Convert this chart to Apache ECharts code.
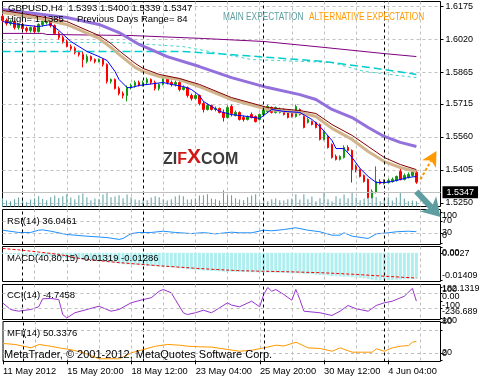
<!DOCTYPE html>
<html>
<head>
<meta charset="utf-8">
<script src="https://cdn.jsdelivr.net/npm/echarts@6.0.0/dist/echarts.min.js"></script>
<style>html,body{margin:0;padding:0;background:#fff;}#chart{width:480px;height:380px;}</style>
</head>
<body>
<div id="chart"></div>
<script>
// ================= DATA =================
const symbolName = 'GBPUSD,H4';
const lastBar = [1.5393, 1.5400, 1.5339, 1.5347];
const dayHighText = 'High= 1.1385';
const prevRangeText = 'Previous Days Range= 84';
const expectationLabels = ['MAIN EXPECTATION', 'ALTERNATIVE EXPECTATION'];
const copyrightText = 'MetaTrader, \u00a9 2001-2012, MetaQuotes Software Corp.';
const logoParts = ['ZI', 'F', 'X', 'COM'];

const slotCount = 110;
const xTickIdx = [0, 16, 32, 48, 64, 80, 96];
const xTickLabels = ['11 May 2012', '15 May 20:00', '18 May 12:00', '23 May 04:00', '25 May 20:00', '30 May 12:00', '4 Jun 04:00'];
const weekStartIdx = [5, 35, 65, 95];
const priceTicks = [1.6175, 1.6020, 1.5865, 1.5715, 1.5560, 1.5405, 1.5250];
const bidPrice = 1.5347;

// [open, close, low, high]
const ohlc = [
[1.6127,1.6108,1.6098,1.6136],[1.6108,1.6094,1.6084,1.6117],[1.6094,1.6103,1.6084,1.6112],[1.6103,1.6075,1.6065,1.6108],
[1.6075,1.6089,1.6065,1.6094],[1.6089,1.6070,1.6061,1.6098],[1.6070,1.6061,1.6051,1.6079],[1.6061,1.6075,1.6051,1.6079],
[1.6075,1.6056,1.6047,1.6084],[1.6056,1.6089,1.6051,1.6094],[1.6089,1.6098,1.6079,1.6108],[1.6098,1.6103,1.6089,1.6112],
[1.6103,1.6084,1.6075,1.6108],[1.6084,1.6047,1.6042,1.6089],[1.6047,1.6028,1.6018,1.6056],[1.6028,1.6009,1.5999,1.6037],
[1.6009,1.5985,1.5981,1.6018],[1.5985,1.5976,1.5966,1.5995],[1.5976,1.5957,1.5948,1.5985],[1.5957,1.5948,1.5938,1.5966],
[1.5948,1.5924,1.5887,1.5962],[1.5915,1.5938,1.5906,1.5948],[1.5938,1.5924,1.5915,1.5943],[1.5924,1.5915,1.5906,1.5929],
[1.5915,1.5924,1.5910,1.5929],[1.5924,1.5901,1.5891,1.5929],[1.5901,1.5821,1.5811,1.5906],[1.5821,1.5830,1.5811,1.5835],
[1.5830,1.5788,1.5783,1.5835],[1.5788,1.5764,1.5755,1.5797],[1.5764,1.5755,1.5741,1.5774],[1.5755,1.5792,1.5727,1.5802],
[1.5792,1.5802,1.5783,1.5811],[1.5802,1.5816,1.5792,1.5825],[1.5816,1.5802,1.5797,1.5825],[1.5802,1.5816,1.5797,1.5825],
[1.5816,1.5830,1.5807,1.5839],[1.5830,1.5816,1.5807,1.5835],[1.5816,1.5788,1.5778,1.5825],[1.5788,1.5807,1.5778,1.5811],
[1.5807,1.5835,1.5802,1.5844],[1.5835,1.5816,1.5807,1.5844],[1.5816,1.5807,1.5797,1.5825],[1.5807,1.5816,1.5797,1.5825],
[1.5816,1.5783,1.5774,1.5821],[1.5783,1.5792,1.5778,1.5802],[1.5792,1.5755,1.5745,1.5797],[1.5755,1.5741,1.5731,1.5764],
[1.5741,1.5755,1.5736,1.5764],[1.5755,1.5717,1.5708,1.5759],[1.5717,1.5689,1.5675,1.5727],[1.5689,1.5708,1.5684,1.5717],
[1.5708,1.5689,1.5684,1.5712],[1.5689,1.5694,1.5680,1.5703],[1.5694,1.5675,1.5670,1.5698],[1.5675,1.5651,1.5632,1.5689],
[1.5651,1.5698,1.5647,1.5708],[1.5703,1.5670,1.5656,1.5712],[1.5661,1.5675,1.5656,1.5684],[1.5675,1.5642,1.5637,1.5680],
[1.5651,1.5642,1.5632,1.5661],[1.5642,1.5656,1.5637,1.5661],[1.5665,1.5651,1.5647,1.5675],[1.5656,1.5632,1.5628,1.5661],
[1.5642,1.5665,1.5637,1.5670],[1.5665,1.5689,1.5661,1.5698],[1.5680,1.5703,1.5675,1.5712],[1.5698,1.5675,1.5670,1.5703],
[1.5675,1.5698,1.5670,1.5703],[1.5675,1.5689,1.5670,1.5698],[1.5689,1.5665,1.5661,1.5694],[1.5675,1.5651,1.5647,1.5680],
[1.5675,1.5656,1.5651,1.5680],[1.5656,1.5703,1.5651,1.5712],[1.5689,1.5665,1.5661,1.5694],[1.5656,1.5604,1.5600,1.5661],
[1.5628,1.5642,1.5623,1.5651],[1.5632,1.5618,1.5614,1.5637],[1.5628,1.5604,1.5600,1.5632],[1.5618,1.5548,1.5543,1.5623],
[1.5548,1.5585,1.5543,1.5590],[1.5562,1.5510,1.5505,1.5567],[1.5524,1.5463,1.5458,1.5529],[1.5468,1.5454,1.5449,1.5477],
[1.5454,1.5468,1.5449,1.5473],[1.5463,1.5510,1.5458,1.5520],[1.5510,1.5496,1.5491,1.5520],[1.5496,1.5406,1.5345,1.5501],
[1.5421,1.5406,1.5393,1.5430],[1.5406,1.5374,1.5369,1.5411],[1.5378,1.5350,1.5345,1.5383],[1.5360,1.5275,1.5270,1.5364],
[1.5275,1.5303,1.5270,1.5313],[1.5299,1.5350,1.5294,1.5421],[1.5350,1.5341,1.5336,1.5360],[1.5341,1.5350,1.5336,1.5360],
[1.5345,1.5355,1.5341,1.5364],[1.5350,1.5360,1.5345,1.5369],[1.5355,1.5374,1.5350,1.5378],[1.5397,1.5360,1.5355,1.5416],
[1.5360,1.5378,1.5355,1.5388],[1.5369,1.5383,1.5364,1.5393],[1.5378,1.5397,1.5374,1.5406],[1.5393,1.5347,1.5339,1.5400]
];

const volume = [
8200,6100,5200,7300,9100,6400,4200,7100,8300,10200,7400,6200,9300,11100,8400,10300,12200,9100,7300,11200,
13100,9200,6300,8100,7200,12100,14200,9300,10100,11300,8200,12100,9200,7100,6300,
7100,6200,9100,10200,9300,7200,6100,7300,10100,11200,10300,7100,7200,8300,11100,11300,12200,8100,7200,6100,
16200,11100,11300,8200,7100,6300,9200,11100,12300,4200,7100,5200,7300,8100,6200,6100,7200,
8100,12200,7100,12300,7200,10100,5200,8300,14100,7200,5100,10200,8100,12100,8200,14300,9100,6200,8100,14200,
12100,9300,5200,8100,9200,6100,9100,14200,8100,5200,6100,5300
];

// moving averages on the price chart: [bar index, price]
const maFast = [[0,1.6103],[4,1.6089],[9,1.6079],[12,1.6089],[14,1.6061],[17,1.6009],[21,1.5962],[24,1.5938],[26,1.5920],[28,1.5868],[29,1.5830],[31,1.5792],[32,1.5792],[34,1.5802],[40,1.5816],[42,1.5807],[45,1.5797],[47,1.5783],[49,1.5755],[50,1.5727],[54,1.5680],[57,1.5665],[61,1.5656],[64,1.5647],[65,1.5661],[67,1.5689],[70,1.5680],[74,1.5675],[77,1.5642],[79,1.5609],[82,1.5543],[83,1.5505],[85,1.5505],[87,1.5463],[89,1.5411],[91,1.5374],[93,1.5345],[95,1.5345],[97,1.5350],[101,1.5369],[103,1.5374]];
const maMid = [[0,1.6145],[8,1.6122],[16,1.6089],[24,1.6023],[27,1.5981],[29,1.5948],[33,1.5887],[35,1.5868],[39,1.5844],[44,1.5830],[49,1.5797],[57,1.5736],[66,1.5689],[74,1.5675],[78,1.5656],[82,1.5600],[87,1.5548],[91,1.5491],[95,1.5444],[99,1.5416],[103,1.5397]];
const maMidLead = [[0,1.6155],[8,1.6131],[16,1.6103],[24,1.6037],[27,1.5999],[29,1.5966],[33,1.5906],[35,1.5882],[39,1.5854],[44,1.5835],[49,1.5807],[57,1.5745],[66,1.5698],[74,1.5684],[78,1.5670],[82,1.5618],[87,1.5567],[91,1.5515],[95,1.5463],[99,1.5430],[103,1.5406]];
const maSlow = [[0,1.6159],[16,1.6122],[24,1.6089],[29,1.6051],[34,1.5995],[41,1.5938],[49,1.5891],[57,1.5839],[66,1.5792],[74,1.5759],[78,1.5736],[82,1.5689],[87,1.5651],[91,1.5604],[95,1.5562],[99,1.5534],[103,1.5515]];
const maLong = [[0,1.6047],[10,1.6047],[11,1.6042],[32,1.6037],[50,1.6023],[65,1.6009],[80,1.5981],[95,1.5952],[103,1.5938]];
const maDailyA = [[0,1.6004],[29,1.6004],[45,1.5985],[62,1.5924],[82,1.5910],[90,1.5868],[103,1.5839]];
const maDailyB = [[0,1.5962],[45,1.5962],[60,1.5943],[80,1.5915],[95,1.5877],[103,1.5854]];

// RSI(14)
const rsi = [[0,41],[4,33.5],[7,33.5],[9,41],[10,42],[12,37.7],[16,27],[21,21.5],[26,17],[29,11],[30,14],[32,30],[34,33.5],[37,33.5],[40,37.7],[43,33.5],[47,30],[50,33],[53,29],[57,34.5],[59,32.5],[62,32.5],[65,41],[67,39],[70,43],[73,48.8],[76,41],[79,35.8],[82,24.7],[84,24.7],[85,32.5],[87,21.5],[91,14],[93,29],[96,32.5],[98,35.8],[101,37.7],[103,36.0461]];
const rsiTicks = [100, 70, 30, 0];
const rsiTickText = ['100', '70', '30', '0'];
const rsiLevels = [70, 30];

// MACD(40,80,15)
const macd = [
-0.0005,-0.0006,-0.0008,-0.0009,-0.0011,-0.0012,-0.0013,-0.0014,-0.0016,-0.0016,
-0.0017,-0.0017,-0.0018,-0.0020,-0.0022,-0.0025,-0.0027,-0.0029,-0.0031,-0.0032,
-0.0035,-0.0036,-0.0037,-0.0039,-0.0040,-0.0042,-0.0047,-0.0049,-0.0052,-0.0055,
-0.0058,-0.0059,-0.0060,-0.0062,-0.0063,-0.0065,-0.0066,-0.0067,-0.0069,-0.0070,
-0.0071,-0.0073,-0.0074,-0.0076,-0.0078,-0.0080,-0.0082,-0.0084,-0.0086,-0.0088,
-0.0090,-0.0091,-0.0092,-0.0093,-0.0094,-0.0095,-0.0096,-0.0096,-0.0097,-0.0097,
-0.0098,-0.0098,-0.0099,-0.0099,-0.0100,-0.0100,-0.0100,-0.0100,-0.0101,-0.0101,
-0.0102,-0.0103,-0.0104,-0.0104,-0.0105,-0.0107,-0.0108,-0.0109,-0.0111,-0.0113,
-0.0114,-0.0116,-0.0118,-0.0119,-0.0120,-0.0121,-0.0122,-0.0124,-0.0126,-0.0128,
-0.0130,-0.0134,-0.0137,-0.0140,-0.01409,-0.0140,-0.0139,-0.0138,-0.0137,-0.0136,
-0.0135,-0.0134,-0.0133,-0.01319
];
const macdSignal = [[0,0.0022],[4,0.0015],[9,0.0004],[14,-0.0008],[19,-0.0028],[24,-0.0040],[29,-0.0050],[34,-0.0058],[39,-0.0066],[44,-0.0073],[49,-0.0080],[54,-0.0086],[59,-0.0091],[65,-0.0094],[72,-0.0097],[80,-0.0102],[88,-0.0110],[95,-0.0119],[103,-0.01286]];
const macdTicks = [0.0027, 0, -0.01409];
const macdTickText = ['0.0027', '0.00', '-0.01409'];

// CCI(14)
const cci = [[0,-28],[2,-120],[4,-143],[7,-120],[9,-83],[10,27],[12,31],[14,17],[15,-189],[16,-236.689],[18,-165],[21,-120],[24,-75],[27,-143],[29,-120],[32,-28],[35,17],[37,41],[39,131],[40,155],[42,109],[43,17],[45,-165],[46,-189],[48,-165],[50,-130],[52,-165],[54,-97],[56,-28],[57,-60],[59,-83],[62,-6],[64,-83],[65,86],[66,182.1319],[67,131],[68,155],[70,86],[72,8],[73,155],[74,17],[75,-143],[79,-165],[82,-202],[84,-143],[86,-65],[88,-110],[91,-143],[93,-65],[95,-28],[97,-6],[100,62],[102,170],[103,-4.7458]];
const cciTicks = [182.1319, 100, 0, -100, -236.689];
const cciTickText = ['182.1319', '100', '0.00', '-100', '-236.689'];
const cciLevels = [100, -100];

// MFI(14)
const mfi = [[0,44.6],[3,42],[7,33],[9,42],[12,37],[14,33],[17,28],[20,20],[24,4],[29,4],[32,20],[35,28.6],[38,37.4],[41,42],[44,40],[46,37.4],[49,35.8],[52,35],[56,28.6],[59,24],[62,26.8],[65,33],[68,40],[70,38],[73,48],[76,33],[79,31.3],[82,24],[84,33],[87,21.5],[92,21.5],[93,30.5],[95,24],[97,33],[99,37.4],[101,39],[102,48],[103,50.3376]];
const mfiTicks = [100, 80, 20, 0];
const mfiTickText = ['100', '80', '20', '0'];
const mfiLevels = [80, 20];

// expectation arrows, anchored in [bar index, price]
const altArrow = {from: [103.5, 1.5360], to: [108.3, 1.5493]};
const mainArrow = {from: [103.2, 1.5303], to: [108.5, 1.5183]};

// ================= STYLE / LAYOUT =================
const FONT = '"Liberation Sans", Arial, sans-serif';
const GRIDCOL = '#c0c0c0';
const panels = [
  {top: 1.5, height: 205},
  {top: 209.5, height: 35},
  {top: 246.5, height: 35},
  {top: 284.5, height: 35},
  {top: 321.5, height: 40}
];
// visual nudges (px) of the sub-window scale labels, like MetaTrader keeps them inside the window
const rsiShift = [4, -1, -1, -7];
const macdShift = [6, 0, -5];
const cciShift = [1, -4, -4, -3, -6];
const mfiShift = [-2, -9, 0, -7];

const chart = echarts.init(document.getElementById('chart'), null, {renderer: 'canvas'});
const cats = Array.from({length: slotCount}, (_, i) => String(i));

function subAxis(g, min, max, ticks) {
  return {
    type: 'value', gridIndex: g, position: 'right', min, max,
    axisLine: {show: false},
    axisTick: {show: true, customValues: ticks, length: 2, lineStyle: {color: '#000'}},
    axisLabel: {show: false},
    splitLine: {show: false}
  };
}
function sepMark(extra) {
  return {
    symbol: ['none', 'none'], silent: true, animation: false, label: {show: false},
    lineStyle: {color: '#000', type: [3, 3], width: 1},
    data: weekStartIdx.map(i => ({xAxis: i})).concat(extra || [])
  };
}
function levelMarks(levels) {
  return levels.map(v => ({yAxis: v, lineStyle: {color: GRIDCOL, type: [3, 3], width: 1}}));
}
function ln(data, color, width, xi, yi, type, z) {
  return {type: 'line', xAxisIndex: xi, yAxisIndex: yi, data, symbol: 'none', silent: true, animation: false,
    lineStyle: {color, width, type: type || 'solid'}, z: z || 4};
}

const option = {
  animation: false,
  backgroundColor: '#fff',
  grid: panels.map(p => ({left: 2.5, width: 438, top: p.top, height: p.height, show: true, borderColor: '#000', borderWidth: 1, backgroundColor: 'transparent'})),
  xAxis: panels.map((p, k) => ({
    type: 'category', gridIndex: k, data: cats, boundaryGap: false,
    axisLine: {show: false},
    axisTick: {show: k === 4, interval: i => xTickIdx.includes(i), length: 4, lineStyle: {color: '#000'}},
    axisLabel: {show: k === 4, interval: i => xTickIdx.includes(i), formatter: v => xTickLabels[xTickIdx.indexOf(+v)],
      align: 'left', color: '#000', fontSize: 9.3, fontFamily: FONT, margin: 5},
    splitLine: {show: true, interval: i => i > 0 && i % 8 === 0, lineStyle: {color: GRIDCOL, type: [3, 3], width: 1}}
  })),
  yAxis: [
    {type: 'value', gridIndex: 0, position: 'right', min: 1.52324, max: 1.61971,
      axisLine: {show: false},
      axisTick: {show: true, customValues: priceTicks, length: 3, lineStyle: {color: '#000'}},
      axisLabel: {customValues: priceTicks, formatter: v => v.toFixed(4), color: '#000', fontSize: 9, fontFamily: FONT, margin: 5},
      splitLine: {show: true, lineStyle: {color: GRIDCOL, type: [3, 3], width: 1}}},
    {type: 'value', gridIndex: 0, min: 0, max: 205000, show: false, splitLine: {show: false}},
    subAxis(1, -5.5, 108.1, rsiTicks),
    subAxis(2, -0.014606, 0.003206, macdTicks),
    subAxis(3, -257.3, 223.3, cciTicks),
    subAxis(4, -3.2, 102.9, mfiTicks)
  ],
  series: [
    {type: 'bar', xAxisIndex: 0, yAxisIndex: 1, data: volume, barWidth: 1, silent: true, z: 1,
      itemStyle: {color: '#5f9ea0'}},
    {type: 'candlestick', xAxisIndex: 0, yAxisIndex: 0, data: ohlc, barWidth: 2, silent: true, z: 3,
      itemStyle: {color: '#119911', color0: '#ff0000', borderColor: '#119911', borderColor0: '#ff0000', borderWidth: 1},
      markLine: sepMark([{yAxis: bidPrice, lineStyle: {color: '#c0c0c0', type: 'solid', width: 1},
        label: {show: true, position: 'end', formatter: bidPrice.toFixed(4), color: '#fff', backgroundColor: '#000',
          padding: [2, 4, 1, 4], fontSize: 9, fontFamily: FONT, distance: 2}}])},
    ln(maLong, '#800080', 1, 0, 0),
    ln(maDailyA, '#48d1cc', 1, 0, 0, [3, 3]),
    ln(maDailyB, '#00ced1', 1.5, 0, 0, [8, 4]),
    ln(maSlow, '#9370db', 3, 0, 0),
    ln(maMid, '#d2b48c', 3, 0, 0),
    ln(maMidLead, '#800000', 1, 0, 0),
    ln(maFast, '#0000ff', 1, 0, 0),
    Object.assign(ln(rsi, '#1e90ff', 1, 1, 2), {markLine: sepMark(levelMarks(rsiLevels))}),
    {type: 'bar', xAxisIndex: 2, yAxisIndex: 3, data: macd, barWidth: 3, silent: true,
      itemStyle: {color: '#aeeeee'}, markLine: sepMark()},
    ln(macdSignal, '#ff0000', 1, 2, 3, [3, 2], 5),
    Object.assign(ln(cci, '#9933cc', 1, 3, 4), {markLine: sepMark(levelMarks(cciLevels))}),
    Object.assign(ln(mfi, '#ff9900', 1, 4, 5), {markLine: sepMark(levelMarks(mfiLevels))})
  ]
};
chart.setOption(option);

// ---------- texts, scale labels, logo and expectation arrows ----------
function T(x, y, text, font, fill, extra) {
  return Object.assign({type: 'text', x, y, z: 50, silent: true,
    style: {text, font, fill, verticalAlign: 'middle', align: 'left'}}, extra || {});
}
function arrow(a, color, headLen, headHalf, shaftW, dash) {
  const p0 = chart.convertToPixel({xAxisIndex: 0, yAxisIndex: 0}, a.from);
  const p1 = chart.convertToPixel({xAxisIndex: 0, yAxisIndex: 0}, a.to);
  const dx = p1[0] - p0[0], dy = p1[1] - p0[1];
  const len = Math.hypot(dx, dy), ux = dx / len, uy = dy / len, nx = -uy, ny = ux;
  const bx = p1[0] - ux * headLen, by = p1[1] - uy * headLen;
  const kx = p1[0] - ux * headLen * 0.72, ky = p1[1] - uy * headLen * 0.72;
  return [
    {type: 'line', z: 60, silent: true, shape: {x1: p0[0], y1: p0[1], x2: kx, y2: ky},
      style: {stroke: color, lineWidth: shaftW, lineDash: dash || null}},
    {type: 'polygon', z: 60, silent: true,
      shape: {points: [[p1[0], p1[1]], [bx + nx * headHalf, by + ny * headHalf], [kx, ky], [bx - nx * headHalf, by - ny * headHalf]]},
      style: {fill: color}}
  ];
}
const lastRsi = rsi[rsi.length - 1][1], lastCci = cci[cci.length - 1][1], lastMfi = mfi[mfi.length - 1][1];
const graphics = [
  T(8, 8, symbolName + '  ' + lastBar.map(v => v.toFixed(4)).join(' '), '9.5px ' + FONT, '#000'),
  T(7, 19, dayHighText, '9.5px ' + FONT, '#000'),
  T(77, 19, prevRangeText, '9.5px ' + FONT, '#000'),
  T(223, 17, expectationLabels[0], '10px ' + FONT, '#5f9ea0', {scaleX: 0.83}),
  T(309, 17, expectationLabels[1], '10px ' + FONT, '#ff9900', {scaleX: 0.83}),
  T(7, 221, 'RSI(14) ' + lastRsi.toFixed(4), '9.5px ' + FONT, '#000'),
  T(7, 258, 'MACD(40,80,15) ' + macd[macd.length - 1].toFixed(5) + ' ' + macdSignal[macdSignal.length - 1][1].toFixed(5), '9.5px ' + FONT, '#000'),
  T(7, 295, 'CCI(14) ' + lastCci.toFixed(4), '9.5px ' + FONT, '#000'),
  T(7, 333, 'MFI(14) ' + lastMfi.toFixed(4), '9.5px ' + FONT, '#000'),
  T(4, 355, copyrightText, '11px ' + FONT, '#000'),
  {type: 'text', x: 163, y: 157, z: 2, silent: true, style: {
    text: '{g|' + logoParts[0] + '}{r|' + logoParts[1] + '}{x|' + logoParts[2] + '}{g|' + logoParts[3] + '}',
    verticalAlign: 'middle', align: 'left',
    rich: {
      g: {fill: '#3c3c3c', font: 'bold 16px ' + FONT, verticalAlign: 'bottom'},
      r: {fill: '#d01818', font: 'bold 16px ' + FONT, verticalAlign: 'bottom'},
      x: {fill: '#d01818', font: 'bold 21px ' + FONT, verticalAlign: 'bottom'}
    }}}
];
// sub-window scale labels placed through each axis' own scale
[
  {axis: 2, ticks: rsiTicks, texts: rsiTickText, shifts: rsiShift},
  {axis: 3, ticks: macdTicks, texts: macdTickText, shifts: macdShift},
  {axis: 4, ticks: cciTicks, texts: cciTickText, shifts: cciShift},
  {axis: 5, ticks: mfiTicks, texts: mfiTickText, shifts: mfiShift}
].forEach(s => s.ticks.forEach((t, k) => {
  const y = chart.convertToPixel({yAxisIndex: s.axis}, t);
  graphics.push(T(442, y + s.shifts[k], s.texts[k], '9px ' + FONT, '#000'));
}));
graphics.push(...arrow(altArrow, '#ff9900', 15, 8, 2, [3, 2]));
graphics.push(...arrow(mainArrow, '#5f9ea0', 18, 11, 6));
chart.setOption({graphic: graphics});
</script>
</body>
</html>
